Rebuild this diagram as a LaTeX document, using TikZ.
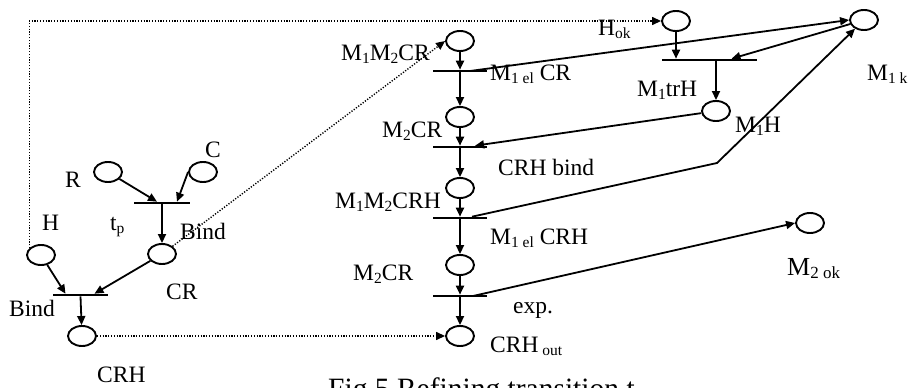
\documentclass[tikz,border=0pt]{standalone}
\usepackage{fontspec}
\setmainfont{Liberation Serif}
\usetikzlibrary{shapes.geometric,arrows.meta}
\newcommand{\subs}[1]{\raisebox{-3pt}{\fontsize{15.5pt}{15.5pt}\selectfont #1}}
\begin{document}
\begin{tikzpicture}[x=1pt,y=-1pt,
  place/.style={ellipse,draw,line width=1.9pt,minimum width=28pt,minimum height=20pt,inner sep=0pt},
  trans/.style={rectangle,fill=black,minimum height=2.2pt,inner sep=0pt,minimum width=#1},
  arr/.style={line width=1.8pt,-{Triangle[length=9pt,width=8pt]}},
  dotarr/.style={line width=1.4pt,dash pattern=on 1.2pt off 1.6pt,-{Triangle[length=9pt,width=8pt]}},
  lbl/.style={anchor=base west,inner sep=0pt,font=\fontsize{23.5pt}{23.5pt}\selectfont}]
\useasboundingbox (0,0) rectangle (913,388);
% places
\node[place] (R) at (108,172) {};
\node[place] (C) at (203,172) {};
\node[place] (H) at (41,255) {};
\node[place] (CR) at (162,254) {};
\node[place] (CRH) at (82,336) {};
\node[place] (M1M2CR) at (460,41) {};
\node[place] (M2CRa) at (460,117) {};
\node[place] (M1M2CRH) at (460,188) {};
\node[place] (M2CRb) at (460,265) {};
\node[place] (CRHout) at (460,336) {};
\node[place] (Hok) at (676,21) {};
\node[place] (M1k) at (864,20) {};
\node[place] (M1H) at (716,111) {};
\node[place] (M2ok) at (810,223) {};
% transitions
\node[trans=56pt] (tp) at (162,203) {};
\node[trans=55pt] (bind) at (80.5,295) {};
\node[trans=54pt] (t1) at (460,71) {};
\node[trans=54pt] (t2) at (460,147) {};
\node[trans=54pt] (t3) at (460,218) {};
\node[trans=54pt] (t4) at (460,296) {};
\node[trans=95pt] (t5) at (709.5,60) {};
\coordinate (bend) at (717,163);
% left net
\draw[arr] (R) -- ([xshift=-5pt]tp.north);
\draw[arr] (C.west) -- ([xshift=15pt]tp.north);
\draw[arr] (tp) -- (CR);
\draw[arr] (H) -- ([xshift=-15pt]bind.north);
\draw[arr] (CR) -- ([xshift=14pt]bind.north);
\draw[arr] (bind.south) -- (CRH);
% dotted links
\draw[dotarr] (CRH.east) -- (CRHout.west);
\draw[dotarr] (CR.north east) -- (M1M2CR.west);
\draw[dotarr] (H.150) |- (Hok.west);
% middle column
\draw[arr] (M1M2CR) -- (t1.north);
\draw[arr] (t1.south) -- (M2CRa);
\draw[arr] (M2CRa) -- (t2.north);
\draw[arr] (t2.south) -- (M1M2CRH);
\draw[arr] (M1M2CRH) -- (t3.north);
\draw[arr] (t3.south) -- (M2CRb);
\draw[arr] (M2CRb) -- (t4.north);
\draw[arr] (t4.south) -- (CRHout);
% right part
\draw[arr] ([xshift=10pt]t1.center) -- (M1k.west);
\draw[arr] (Hok) -- (Hok |- t5.north);
\draw[arr] (M1k) -- ([xshift=22pt]t5.north);
\draw[arr] (M1H |- t5.south) -- (M1H);
\draw[arr] (M1H) -- ([xshift=15pt]t2.north);
\draw[arr] ([xshift=12pt]t3.north) -- (bend) -- (M1k);
\draw[arr] ([xshift=13pt]t4.center) -- (M2ok.west);
% labels
\node[lbl] (lR) at (65,187) {R};
\node[lbl] (lC) at (205,157) {C};
\node[lbl] (ltp) at (110,230) {t\subs{p}};
\node[lbl] (lBind1) at (180,239) {Bind};
\node[lbl] (lH) at (42,230) {H};
\node[lbl] (lBind2) at (9,316) {Bind};
\node[lbl] (lCR) at (166,299) {CR};
\node[lbl] (lCRH) at (97,382) {CRH};
\node[lbl] (lM1M2CR) at (341,60) {M\subs{1}M\subs{2}CR};
\node[lbl] (lt1) at (490,80) {M\subs{1 el} CR};
\node[lbl] (lM2CRa) at (382,137) {M\subs{2}CR};
\node[lbl] (lt2) at (498,175) {CRH bind};
\node[lbl] (lM1M2CRH) at (335,208) {M\subs{1}M\subs{2}CRH};
\node[lbl] (lt3) at (490,244) {M\subs{1 el} CRH};
\node[lbl] (lM2CRb) at (353,280) {M\subs{2}CR};
\node[lbl] (lt4) at (513,313) {exp.};
\node[lbl] (lCRHout) at (490,352) {CRH\,\subs{out}};
\node[lbl] (lHok) at (598,35) {H\subs{ok}};
\node[lbl] (lt5) at (637,96) {M\subs{1}trH};
\node[lbl] (lM1H) at (735,132) {M\subs{1}H};
\node[lbl] (lM1k) at (867,80) {M\subs{1 k}};
\node[lbl,font=\fontsize{26pt}{26pt}\selectfont] (lM2ok) at (787,275) {M\raisebox{-3pt}{\fontsize{17pt}{17pt}\selectfont 2 ok}};
\node[lbl,font=\fontsize{29.5pt}{29.5pt}\selectfont] (cap) at (328,398) {Fig.5 Refining transition t};
\end{tikzpicture}
\end{document}
